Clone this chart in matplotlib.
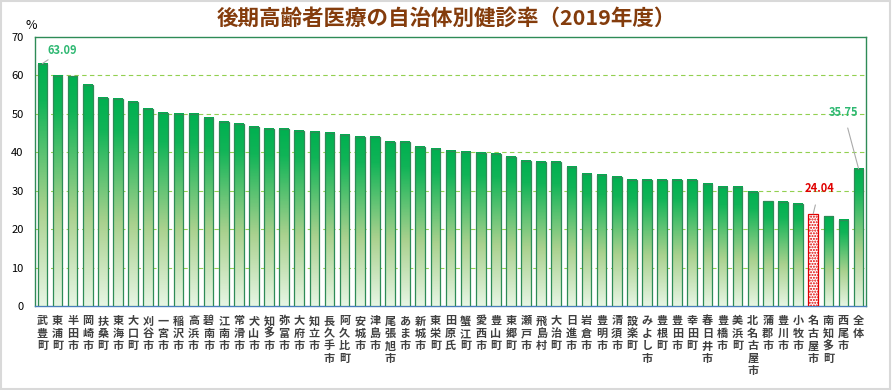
import numpy as np
import matplotlib
matplotlib.use("Agg")
import matplotlib.pyplot as plt
from matplotlib.colors import LinearSegmentedColormap
from matplotlib.patches import Rectangle

plt.rcParams['font.family'] = ['Noto Sans CJK JP', 'DejaVu Sans']

# municipalities, sorted by rate (last one is the overall value)
names = ["武豊町", "東浦町", "半田市", "岡崎市", "扶桑町", "東海市", "大口町", "刈谷市",
         "一宮市", "稲沢市", "高浜市", "碧南市", "江南市", "常滑市", "犬山市", "知多市",
         "弥富市", "大府市", "知立市", "長久手市", "阿久比町", "安城市", "津島市", "尾張旭市",
         "あま市", "新城市", "東栄町", "田原氏", "蟹江町", "愛西市", "豊山町", "東郷町",
         "瀬戸市", "飛島村", "大治町", "日進市", "岩倉市", "豊明市", "清須市", "設楽町",
         "みよし市", "豊根町", "豊田市", "幸田町", "春日井市", "豊橋市", "美浜町", "北名古屋市",
         "蒲郡市", "豊川市", "小牧市", "名古屋市", "南知多町", "西尾市", "全体"]
rates = [63.09, 59.9, 59.8, 57.5, 54.2, 53.9, 53.1, 51.3,
         50.3, 50.0, 50.0, 49.0, 47.9, 47.4, 46.6, 46.1,
         46.1, 45.6, 45.3, 45.1, 44.5, 44.1, 44.0, 42.8,
         42.7, 41.4, 40.9, 40.4, 40.1, 39.8, 39.6, 38.8,
         37.8, 37.5, 37.5, 36.2, 34.4, 34.1, 33.6, 32.8,
         32.8, 32.8, 32.8, 32.8, 31.8, 31.0, 31.0, 29.7,
         27.3, 27.1, 26.6, 24.04, 23.4, 22.4, 35.75]
highlight = "名古屋市"

cmap = LinearSegmentedColormap.from_list(
    "grn", [(0, "#e6f5e3"), (0.4, "#a9d18e"), (0.85, "#10b457"), (1, "#00b050")])
grad = np.linspace(0, 1, 100).reshape(-1, 1)

fig = plt.figure(figsize=(8.92, 3.90), dpi=100)
ax = fig.add_axes([0.039, 0.215, 0.932, 0.69])

x = np.arange(len(names))
w = 0.64
for i, (n, v) in enumerate(zip(names, rates)):
    if n == highlight:
        ax.bar(i, v, width=w, color="white", edgecolor="#e00000", hatch="......",
               linewidth=0.9, zorder=3)
    else:
        ax.imshow(grad, cmap=cmap, origin="lower", aspect="auto",
                  extent=[i - w / 2, i + w / 2, 0, v], zorder=3)
        ax.add_patch(Rectangle((i - w / 2, 0), w, v, fill=False,
                               edgecolor="#2e8b57", linewidth=0.9, zorder=4))

# data labels with leader lines
ax.annotate("63.09", xy=(0, 63.09), xytext=(1.3, 66.5), ha="center", va="center",
            fontsize=8, fontweight="bold", color="#2eb872",
            arrowprops=dict(arrowstyle="-", color="#aaaaaa", lw=0.8,
                            shrinkA=6, shrinkB=0), zorder=5)
ax.annotate("24.04", xy=(51, 24.04), xytext=(51.4, 30.5), ha="center", va="center",
            fontsize=8, fontweight="bold", color="#e00000",
            arrowprops=dict(arrowstyle="-", color="#aaaaaa", lw=0.8,
                            shrinkA=5, shrinkB=0), zorder=5)
ax.annotate("35.75", xy=(54, 35.75), xytext=(53.0, 50.5), ha="center", va="center",
            fontsize=8, fontweight="bold", color="#2eb872",
            arrowprops=dict(arrowstyle="-", color="#aaaaaa", lw=0.8,
                            shrinkA=5, shrinkB=0), zorder=5)

ax.set_xlim(-0.5, len(names) - 0.5)
ax.set_ylim(0, 70)
ax.set_yticks(range(0, 71, 10))
for y in range(10, 70, 10):
    ax.axhline(y, color="#92d050", linestyle=(0, (4, 3)), linewidth=0.8, zorder=1)

ax.set_xticks(x)
ax.set_xticklabels(["\n".join(n) for n in names], fontsize=8, fontweight="bold",
                   color="#404040", va="top", linespacing=0.95)
ax.tick_params(axis="both", length=0)
ax.tick_params(axis="x", pad=6)
ax.tick_params(axis="y", labelsize=8, pad=8)

for s in ["left", "right", "top"]:
    ax.spines[s].set_color("#2e8b57")
    ax.spines[s].set_linewidth(1.0)
ax.spines["bottom"].set_color("#4a7ebb")
ax.spines["bottom"].set_linewidth(1.0)

fig.text(0.035, 0.935, "%", fontsize=9, ha="center", va="center")
fig.text(0.5, 0.953, "後期高齢者医療の自治体別健診率（2019年度）", fontsize=15.5,
         fontweight="bold", color="#843c0c", ha="center", va="center")

# outer light border
fig.add_artist(Rectangle((0.001, 0.002), 0.997, 0.995, transform=fig.transFigure,
                         fill=False, edgecolor="#d9d9d9", linewidth=1.5))

fig.savefig("out.png", dpi=100)
